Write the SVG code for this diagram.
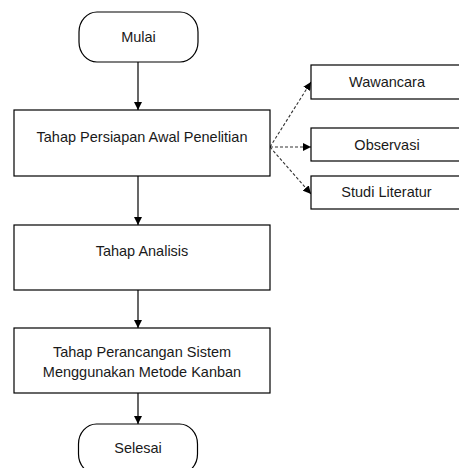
<svg xmlns="http://www.w3.org/2000/svg" width="459" height="468" viewBox="0 0 459 468">
  <defs>
    <style>
      .box { fill: #ffffff; stroke: #000000; stroke-width: 1.2; }
      .lbl { font-family: "Liberation Sans", Arial, sans-serif; font-size: 14.5px; fill: #1a1a1a; text-anchor: middle; }
      .flow { stroke: #000000; stroke-width: 1.2; fill: none; }
      .dot { stroke: #333333; stroke-width: 1.1; fill: none; stroke-dasharray: 3 2; }
    </style>
    <marker id="ah" viewBox="0 0 10 10" refX="10" refY="5" markerWidth="8" markerHeight="8" markerUnits="userSpaceOnUse" orient="auto">
      <path d="M0,0 L10,5 L0,10 Z" fill="#000000"/>
    </marker>
  </defs>
  <rect width="459" height="468" fill="#ffffff"/>

  <!-- connectors -->
  <g id="connectors">
    <line class="flow" x1="138" y1="62" x2="138" y2="110" marker-end="url(#ah)"/>
    <line class="flow" x1="138" y1="176" x2="138" y2="225" marker-end="url(#ah)"/>
    <line class="flow" x1="138" y1="290" x2="138" y2="328" marker-end="url(#ah)"/>
    <line class="flow" x1="138" y1="393" x2="138" y2="424" marker-end="url(#ah)"/>
    <line class="dot" x1="270" y1="147" x2="311" y2="82" marker-end="url(#ah)"/>
    <line class="dot" x1="270" y1="147" x2="311" y2="147" marker-end="url(#ah)"/>
    <line class="dot" x1="270" y1="147" x2="311" y2="194" marker-end="url(#ah)"/>
  </g>

  <!-- nodes -->
  <g id="mulai">
    <rect class="box" x="79" y="12" width="119" height="50" rx="18" ry="20"/>
    <text class="lbl" x="138.5" y="42">Mulai</text>
  </g>
  <g id="persiapan">
    <rect class="box" x="14" y="110" width="256" height="66"/>
    <text class="lbl" x="142" y="142">Tahap Persiapan Awal Penelitian</text>
  </g>
  <g id="wawancara">
    <rect class="box" x="311" y="65" width="152" height="34"/>
    <text class="lbl" x="387" y="87">Wawancara</text>
  </g>
  <g id="observasi">
    <rect class="box" x="311" y="128" width="152" height="33"/>
    <text class="lbl" x="387" y="149.5">Observasi</text>
  </g>
  <g id="studi-literatur">
    <rect class="box" x="311" y="176" width="152" height="33"/>
    <text class="lbl" x="386.5" y="197">Studi Literatur</text>
  </g>
  <g id="analisis">
    <rect class="box" x="14" y="225" width="256" height="65"/>
    <text class="lbl" x="142" y="256">Tahap Analisis</text>
  </g>
  <g id="perancangan">
    <rect class="box" x="14" y="328" width="256" height="65"/>
    <text class="lbl" x="142" y="357">Tahap Perancangan Sistem</text>
    <text class="lbl" x="142" y="377">Menggunakan Metode Kanban</text>
  </g>
  <g id="selesai">
    <rect class="box" x="78.5" y="424" width="119" height="50" rx="18" ry="20"/>
    <text class="lbl" x="138" y="453">Selesai</text>
  </g>
</svg>
